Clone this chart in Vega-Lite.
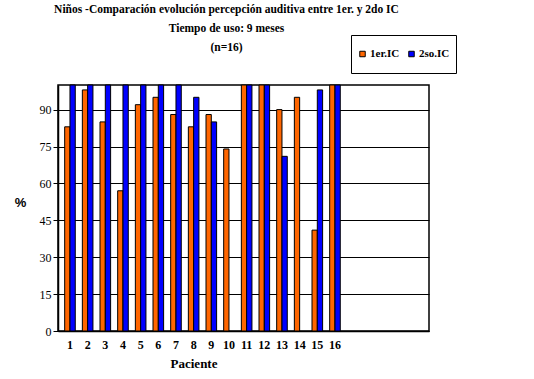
{
  "$schema": "https://vega.github.io/schema/vega-lite/v6.json",
  "autosize": {"type": "none"},
  "padding": {"left": 58, "top": 85, "right": 105, "bottom": 48},
  "width": 371,
  "height": 246,
  "background": "white",
  "title": {
    "text": ["Niños -Comparación evolución percepción auditiva entre 1er. y 2do IC", "Tiempo de uso: 9 meses", "(n=16)"],
    "font": "Liberation Serif",
    "fontSize": 11.5,
    "fontWeight": "bold",
    "color": "black",
    "lineHeight": 19,
    "anchor": "middle",
    "dx": -17,
    "offset": -19
  },
  "data": {
    "values": [
      {"Paciente": "1", "Serie": "1er.IC", "v": 83}, {"Paciente": "1", "Serie": "2so.IC", "v": 100},
      {"Paciente": "2", "Serie": "1er.IC", "v": 98}, {"Paciente": "2", "Serie": "2so.IC", "v": 100},
      {"Paciente": "3", "Serie": "1er.IC", "v": 85}, {"Paciente": "3", "Serie": "2so.IC", "v": 100},
      {"Paciente": "4", "Serie": "1er.IC", "v": 57}, {"Paciente": "4", "Serie": "2so.IC", "v": 100},
      {"Paciente": "5", "Serie": "1er.IC", "v": 92}, {"Paciente": "5", "Serie": "2so.IC", "v": 100},
      {"Paciente": "6", "Serie": "1er.IC", "v": 95}, {"Paciente": "6", "Serie": "2so.IC", "v": 100},
      {"Paciente": "7", "Serie": "1er.IC", "v": 88}, {"Paciente": "7", "Serie": "2so.IC", "v": 100},
      {"Paciente": "8", "Serie": "1er.IC", "v": 83}, {"Paciente": "8", "Serie": "2so.IC", "v": 95},
      {"Paciente": "9", "Serie": "1er.IC", "v": 88}, {"Paciente": "9", "Serie": "2so.IC", "v": 85},
      {"Paciente": "10", "Serie": "1er.IC", "v": 74},
      {"Paciente": "11", "Serie": "1er.IC", "v": 100}, {"Paciente": "11", "Serie": "2so.IC", "v": 100},
      {"Paciente": "12", "Serie": "1er.IC", "v": 100}, {"Paciente": "12", "Serie": "2so.IC", "v": 100},
      {"Paciente": "13", "Serie": "1er.IC", "v": 90}, {"Paciente": "13", "Serie": "2so.IC", "v": 71},
      {"Paciente": "14", "Serie": "1er.IC", "v": 95},
      {"Paciente": "15", "Serie": "1er.IC", "v": 41}, {"Paciente": "15", "Serie": "2so.IC", "v": 98},
      {"Paciente": "16", "Serie": "1er.IC", "v": 100}, {"Paciente": "16", "Serie": "2so.IC", "v": 100}
    ]
  },
  "mark": {"type": "bar", "stroke": "black", "strokeWidth": 1},
  "encoding": {
    "x": {
      "field": "Paciente",
      "type": "nominal",
      "sort": null,
      "scale": {
        "domain": ["1","2","3","4","5","6","7","8","9","10","11","12","13","14","15","16","17","18","19","20"],
        "paddingInner": 0.4,
        "paddingOuter": 0.7,
        "align": 0.27
      },
      "axis": {
        "title": "Paciente",
        "titleFont": "Liberation Serif",
        "titleFontSize": 13,
        "titleFontWeight": "bold",
        "titleColor": "black",
        "titleX": 135.5,
        "titleY": 32,
        "titleBaseline": "middle",
        "titleAlign": "center",
        "labelAngle": 0,
        "labelFont": "Liberation Serif",
        "labelFontSize": 12,
        "labelFontWeight": "bold",
        "labelColor": "black",
        "labelPadding": 8,
        "labelExpr": "toNumber(datum.value) <= 16 ? datum.label : ''",
        "ticks": false,
        "domainColor": "black",
        "domainWidth": 1.5,
        "grid": false
      }
    },
    "xOffset": {"field": "Serie", "type": "nominal", "scale": {"domain": ["1er.IC", "2so.IC"], "paddingInner": 0}},
    "y": {
      "field": "v",
      "type": "quantitative",
      "scale": {"domain": [0, 100], "nice": false},
      "axis": {
        "title": "%",
        "titleAngle": 0,
        "titleFont": "Liberation Sans",
        "titleFontSize": 13,
        "titleFontWeight": "bold",
        "titleColor": "black",
        "titleX": -38,
        "titleY": 117,
        "titleAlign": "center",
        "titleBaseline": "middle",
        "values": [0, 15, 30, 45, 60, 75, 90],
        "labelFont": "Liberation Serif",
        "labelFontSize": 12,
        "labelColor": "black",
        "labelPadding": 2,
        "tickSize": 5,
        "tickColor": "black",
        "domainColor": "black",
        "domainWidth": 1.5,
        "grid": true,
        "gridColor": "black",
        "gridOpacity": 1,
        "gridWidth": 1
      }
    },
    "color": {
      "field": "Serie",
      "type": "nominal",
      "scale": {"domain": ["1er.IC", "2so.IC"], "range": ["#FF6600", "#0000FF"]},
      "legend": {
        "title": null,
        "orient": "none",
        "legendX": 293,
        "legendY": -50,
        "direction": "horizontal",
        "strokeColor": "black",
        "fillColor": "white",
        "padding": 6,
        "clipHeight": 26,
        "symbolType": "square",
        "symbolSize": 30,
        "symbolStrokeColor": "black",
        "symbolStrokeWidth": 1,
        "symbolOffset": 0,
        "labelFont": "Liberation Serif",
        "labelFontSize": 11,
        "labelFontWeight": "bold",
        "labelColor": "black",
        "labelOffset": 2,
        "columnPadding": 6
      }
    }
  },
  "config": {
    "view": {"stroke": "black", "strokeWidth": 1.5}
  }
}
